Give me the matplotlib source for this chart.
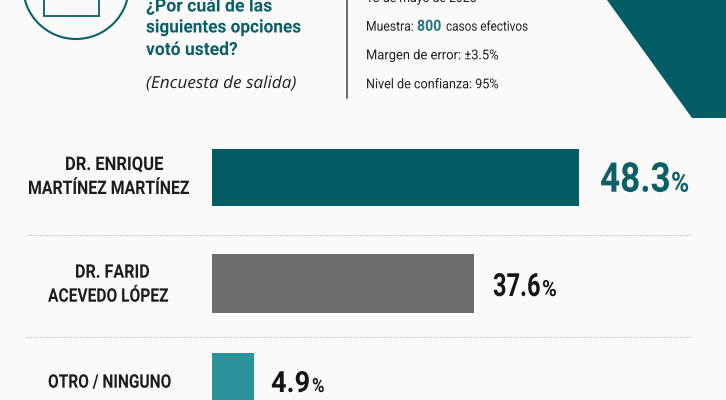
import matplotlib.pyplot as plt
from matplotlib.patches import Circle, Polygon, Rectangle
from matplotlib.patheffects import AbstractPathEffect
from matplotlib.transforms import Affine2D

# datos de la encuesta
label_lines = ["DR. ENRIQUE", "MARTÍNEZ MARTÍNEZ", "DR. FARID", "ACEVEDO LÓPEZ", "OTRO / NINGUNO"]
values = [48.3, 37.6, 4.9]
# largo dibujado de cada barra (no es proporcional al valor)
bar_lengths = [48.3, 34.5, 5.5]
colors = ["#045c64", "#6e6e6e", "#2a939b"]
value_colors = ["#0b5f68", "#151515", "#151515"]

BG = "#fafafa"
TEAL = "#0b5f68"
DARK = "#222222"


class FitWidth(AbstractPathEffect):
    # la fuente del original es condensada: se comprime el texto al ancho indicado (px)
    def __init__(self, width):
        super().__init__()
        self.width = width

    def draw_path(self, renderer, gc, tpath, affine, rgbFace=None):
        w = tpath.get_extents().width * affine.get_matrix()[0, 0]
        renderer.draw_path(gc, tpath, Affine2D().scale(self.width / w, 1) + affine, rgbFace)


def put(x, y, s, width, size, color=DARK, weight="normal", style="normal", family="Roboto"):
    # x, y en pixeles, y es la linea base
    return bg.text(x, y, s, color=color, fontsize=size, fontweight=weight, fontstyle=style,
                   family=family, va="baseline", path_effects=[FitWidth(width)])


fig = plt.figure(figsize=(7.26, 4.0), dpi=100, facecolor=BG)

# fondo en pixeles
bg = fig.add_axes([0, 0, 1, 1])
bg.set_xlim(0, 726)
bg.set_ylim(400, 0)
bg.axis("off")

# icono
bg.add_patch(Circle((76, -14), 53, fill=False, ec=TEAL, lw=1.5))
bg.add_patch(Rectangle((43.5, -30), 55.5, 46, fill=False, ec=TEAL, lw=1.3))

# pregunta
put(146, 11.5, "¿Por cuál de las", 125, 13, TEAL, "bold")
put(146, 32.5, "siguientes opciones", 154, 13, TEAL, "bold")
put(146, 55, "votó usted?", 91, 13, TEAL, "bold")
put(146, 88, "(Encuesta de salida)", 149, 12, DARK, style="italic", family="Open Sans")

# ficha tecnica
bg.plot([347, 347], [0, 98], color="#555555", lw=1.2)
put(366, 2, "13 de mayo de 2025", 109, 9.8)
put(366, 30.7, "Muestra:", 46, 9.8)
put(417, 30.7, "800", 23, 11, "#1f7480", "bold")
put(446, 30.7, "casos efectivos", 81, 9.8)
put(366, 59.3, "Margen de error: ±3.5%", 131, 9.8)
put(366, 88.3, "Nivel de confianza: 95%", 131, 9.8)

# esquina
bg.add_patch(Polygon([(607, 0), (726, 0), (726, 118), (692, 118)], fc="#045c64", ec="none"))

# separadores
for y in [235.3, 336.7]:
    bg.plot([26, 691], [y, y], color="#c0c0c0", lw=0.8, ls=(0, (1, 1)))

# nombres
line_x = [65, 28, 75, 48, 48]
line_y = [170, 194, 277.7, 301.7, 387.7]
line_w = [97, 160, 73, 120, 122]
for x, y, w, s in zip(line_x, line_y, line_w, label_lines):
    put(x, y, s, w, 13.5, "#1c1c1c", "bold")

# barras
ax = fig.add_axes([212 / 726, 0, (726 - 212) / 726, 1])
ax.set_xlim(0, 514 / 7.6)
ax.set_ylim(400, 0)
ax.axis("off")
ax.barh([177.7, 283.8, 382], bar_lengths, height=[56.7, 59, 58], color=colors)

# valores
value_x = [600, 493, 271]
value_y = [191.7, 296, 392]
value_w = [68, 46, 37]
value_fs = [29.5, 23, 21]
pct_x = [671, 542, 312]
pct_w = [16, 13, 11]
pct_fs = [20, 16, 14]
for i, v in enumerate(values):
    put(value_x[i], value_y[i], f"{v}", value_w[i], value_fs[i], value_colors[i], "bold")
    put(pct_x[i], value_y[i], "%", pct_w[i], pct_fs[i], value_colors[i], "bold")

fig.savefig("out.png", dpi=100, facecolor=BG)
